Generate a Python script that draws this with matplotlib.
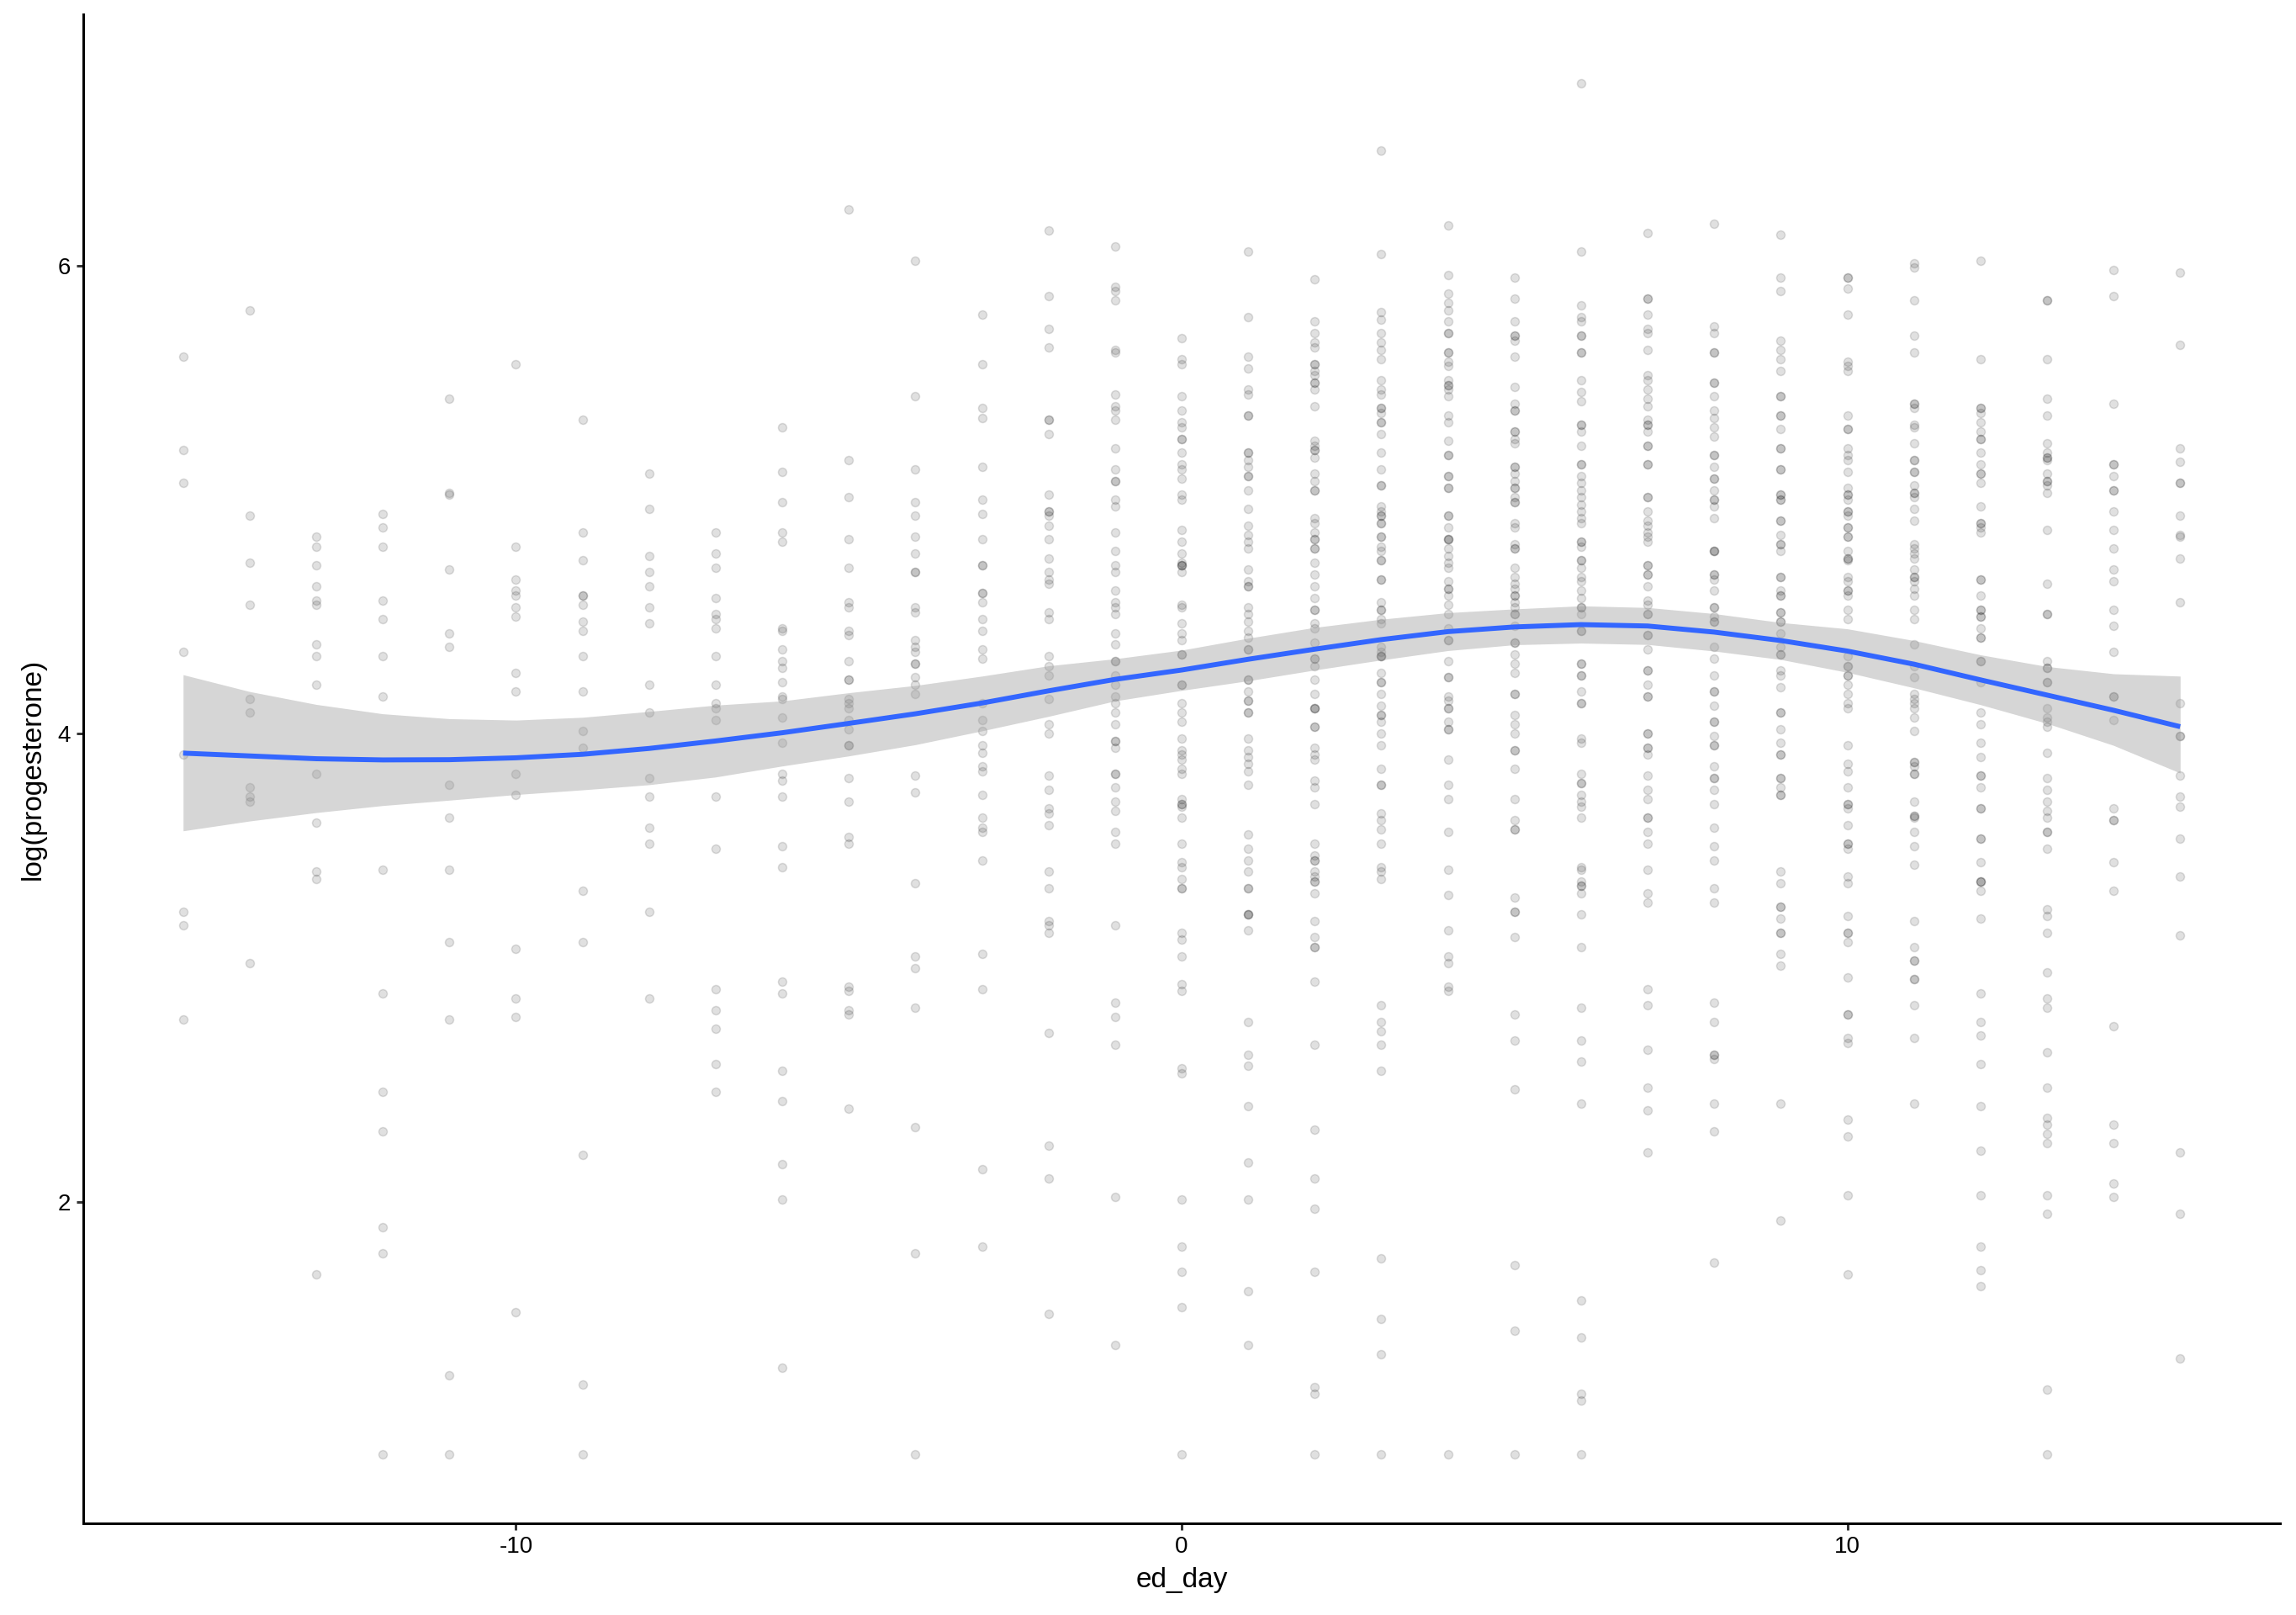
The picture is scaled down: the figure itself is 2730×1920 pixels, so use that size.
import numpy as np
import matplotlib
matplotlib.use("Agg")
import matplotlib.pyplot as plt

plt.rcParams['font.family'] = ['Liberation Sans', 'DejaVu Sans']
plt.rcParams['axes.unicode_minus'] = False

# ---- observed log(progesterone) values per ed_day ----
day_m15 = [5.61, 5.21, 5.07, 4.35, 3.91, 3.24, 3.18, 2.78]
day_m14 = [5.81, 4.93, 4.73, 4.55, 4.15, 4.09, 3.77, 3.73, 3.71, 3.02]
day_m13 = [4.84, 4.80, 4.72, 4.63, 4.57, 4.55, 4.38, 4.33, 4.21, 3.83, 3.62, 3.41, 3.38, 1.69]
day_m12 = [4.94, 4.88, 4.80, 4.57, 4.49, 4.33, 4.16, 3.42, 2.89, 2.47, 2.30, 1.89, 1.78, 0.92]
day_m11 = [5.43, 5.03, 5.02, 4.70, 4.43, 4.37, 3.78, 3.64, 3.42, 3.11, 2.78, 1.26, 0.92]
day_m10 = [5.58, 4.80, 4.66, 4.61, 4.59, 4.54, 4.50, 4.26, 4.18, 3.83, 3.74, 3.08, 2.87, 2.79, 1.53]
day_m9 = [5.34, 4.86, 4.74, 4.59, 4.59, 4.55, 4.48, 4.44, 4.33, 4.18, 4.01, 3.94, 3.33, 3.11, 2.20, 1.22, 0.92]
day_m8 = [5.11, 4.96, 4.76, 4.69, 4.63, 4.54, 4.47, 4.21, 4.09, 3.81, 3.73, 3.60, 3.53, 3.24, 2.87]
day_m7 = [4.86, 4.77, 4.71, 4.58, 4.51, 4.49, 4.45, 4.33, 4.21, 4.13, 4.11, 4.06, 3.73, 3.51, 2.91, 2.82,
          2.74, 2.59, 2.47]
day_m6 = [5.31, 5.12, 4.99, 4.86, 4.82, 4.45, 4.44, 4.36, 4.31, 4.28, 4.22, 4.16, 4.15, 4.07, 3.96, 3.83,
          3.80, 3.73, 3.52, 3.43, 2.94, 2.89, 2.56, 2.43, 2.16, 2.01, 1.29]
day_m5 = [6.24, 5.17, 5.01, 4.83, 4.71, 4.56, 4.54, 4.44, 4.42, 4.31, 4.23, 4.23, 4.15, 4.13, 4.11, 4.06,
          4.02, 3.95, 3.95, 3.81, 3.71, 3.56, 3.53, 2.92, 2.90, 2.82, 2.80, 2.40]
day_m4 = [6.02, 5.44, 5.13, 4.99, 4.93, 4.84, 4.77, 4.69, 4.69, 4.54, 4.52, 4.40, 4.37, 4.35, 4.30, 4.30,
          4.24, 4.21, 4.17, 3.82, 3.75, 3.36, 3.05, 3.00, 2.83, 2.32, 1.78, 0.92]
day_m3 = [5.79, 5.58, 5.39, 5.35, 5.14, 5.00, 4.94, 4.83, 4.72, 4.72, 4.60, 4.60, 4.56, 4.49, 4.44, 4.36,
          4.32, 4.13, 4.06, 4.01, 3.95, 3.92, 3.86, 3.84, 3.74, 3.64, 3.60, 3.58, 3.46, 3.06, 2.91, 2.14, 1.81]
day_m2 = [6.15, 5.87, 5.73, 5.65, 5.34, 5.34, 5.28, 5.02, 4.95, 4.95, 4.93, 4.89, 4.83, 4.75, 4.69, 4.66,
          4.64, 4.52, 4.49, 4.33, 4.29, 4.25, 4.15, 4.04, 4.00, 3.82, 3.76, 3.68, 3.66, 3.61, 3.41, 3.34,
          3.20, 3.18, 3.15, 2.72, 2.24, 2.10, 1.52]
day_m1 = [6.08, 5.91, 5.89, 5.85, 5.64, 5.63, 5.45, 5.40, 5.38, 5.34, 5.22, 5.13, 5.08, 5.08, 5.00, 4.97,
          4.86, 4.78, 4.72, 4.69, 4.61, 4.56, 4.54, 4.51, 4.43, 4.38, 4.31, 4.31, 4.25, 4.21, 4.16, 4.13,
          4.09, 4.04, 3.97, 3.97, 3.94, 3.83, 3.83, 3.77, 3.71, 3.67, 3.58, 3.53, 3.18, 2.85, 2.79, 2.67,
          2.02, 1.39]
day_0 = [5.69, 5.60, 5.58, 5.44, 5.38, 5.33, 5.31, 5.26, 5.26, 5.20, 5.15, 5.13, 5.09, 5.02, 5.00, 4.87,
         4.82, 4.77, 4.73, 4.72, 4.72, 4.72, 4.69, 4.55, 4.54, 4.47, 4.43, 4.40, 4.34, 4.34, 4.21, 4.21,
         4.13, 4.09, 4.05, 3.98, 3.93, 3.91, 3.89, 3.85, 3.83, 3.72, 3.70, 3.70, 3.69, 3.64, 3.53, 3.45,
         3.43, 3.38, 3.34, 3.34, 3.15, 3.12, 3.05, 2.93, 2.90, 2.57, 2.55, 2.01, 1.81, 1.70, 1.55, 0.92]
day_1 = [6.06, 5.78, 5.61, 5.56, 5.47, 5.45, 5.36, 5.36, 5.20, 5.20, 5.17, 5.14, 5.10, 5.10, 5.04, 4.96,
         4.89, 4.85, 4.82, 4.79, 4.70, 4.65, 4.63, 4.63, 4.54, 4.51, 4.48, 4.44, 4.41, 4.36, 4.36, 4.23,
         4.23, 4.18, 4.14, 4.14, 4.09, 4.09, 3.98, 3.93, 3.90, 3.87, 3.84, 3.78, 3.57, 3.51, 3.46, 3.41,
         3.34, 3.34, 3.23, 3.23, 3.23, 3.16, 2.77, 2.63, 2.58, 2.41, 2.17, 2.01, 1.62, 1.39]
day_2 = [5.94, 5.76, 5.71, 5.67, 5.65, 5.58, 5.58, 5.55, 5.53, 5.50, 5.50, 5.47, 5.40, 5.25, 5.23, 5.21,
         5.21, 5.18, 5.11, 5.08, 5.04, 5.04, 4.92, 4.90, 4.86, 4.83, 4.83, 4.79, 4.79, 4.73, 4.68, 4.63,
         4.58, 4.53, 4.53, 4.47, 4.45, 4.39, 4.32, 4.32, 4.29, 4.23, 4.17, 4.11, 4.11, 4.11, 4.03, 4.03,
         3.94, 3.91, 3.89, 3.80, 3.77, 3.70, 3.53, 3.48, 3.46, 3.46, 3.41, 3.39, 3.37, 3.37, 3.32, 3.20,
         3.13, 3.09, 3.09, 2.94, 2.67, 2.31, 2.10, 1.97, 1.70, 1.21, 1.18, 0.92]
day_3 = [6.49, 6.05, 5.80, 5.77, 5.71, 5.67, 5.64, 5.60, 5.51, 5.47, 5.45, 5.39, 5.39, 5.37, 5.33, 5.33,
         5.28, 5.20, 5.13, 5.06, 5.06, 4.97, 4.95, 4.93, 4.93, 4.90, 4.90, 4.84, 4.84, 4.80, 4.78, 4.74,
         4.74, 4.66, 4.66, 4.56, 4.53, 4.53, 4.49, 4.47, 4.37, 4.35, 4.33, 4.33, 4.33, 4.26, 4.22, 4.22,
         4.17, 4.12, 4.08, 4.08, 4.05, 4.00, 3.95, 3.85, 3.78, 3.78, 3.66, 3.63, 3.59, 3.53, 3.43, 3.41,
         3.38, 2.84, 2.77, 2.73, 2.67, 2.56, 1.76, 1.50, 1.35, 0.92]
day_4 = [6.17, 5.96, 5.88, 5.84, 5.81, 5.76, 5.71, 5.71, 5.63, 5.63, 5.59, 5.57, 5.51, 5.49, 5.49, 5.47,
         5.44, 5.36, 5.33, 5.25, 5.19, 5.19, 5.10, 5.10, 5.05, 5.05, 4.93, 4.93, 4.88, 4.83, 4.83, 4.83,
         4.79, 4.76, 4.73, 4.71, 4.65, 4.62, 4.62, 4.59, 4.55, 4.51, 4.45, 4.40, 4.40, 4.31, 4.24, 4.24,
         4.16, 4.14, 4.11, 4.11, 4.05, 4.02, 4.02, 3.89, 3.78, 3.72, 3.58, 3.42, 3.31, 3.16, 3.05, 3.02,
         2.92, 2.90, 0.92]
day_5 = [5.95, 5.86, 5.76, 5.70, 5.70, 5.68, 5.61, 5.48, 5.41, 5.38, 5.38, 5.29, 5.29, 5.26, 5.24, 5.14,
         5.14, 5.11, 5.08, 5.05, 5.05, 5.01, 4.99, 4.99, 4.90, 4.88, 4.81, 4.79, 4.79, 4.71, 4.67, 4.64,
         4.62, 4.59, 4.59, 4.56, 4.54, 4.51, 4.51, 4.46, 4.39, 4.39, 4.34, 4.30, 4.26, 4.17, 4.17, 4.08,
         4.04, 4.00, 3.93, 3.93, 3.85, 3.72, 3.63, 3.59, 3.59, 3.30, 3.24, 3.24, 3.13, 2.80, 2.69, 2.48,
         1.73, 1.45, 0.92]
day_6 = [6.78, 6.06, 5.83, 5.78, 5.76, 5.70, 5.70, 5.63, 5.63, 5.51, 5.46, 5.42, 5.32, 5.32, 5.29, 5.23,
         5.15, 5.15, 5.10, 5.07, 5.04, 5.01, 4.98, 4.95, 4.92, 4.90, 4.82, 4.82, 4.80, 4.74, 4.74, 4.71,
         4.67, 4.65, 4.61, 4.58, 4.54, 4.54, 4.51, 4.44, 4.44, 4.30, 4.30, 4.25, 4.25, 4.18, 4.13, 4.13,
         3.98, 3.96, 3.83, 3.79, 3.79, 3.74, 3.71, 3.69, 3.64, 3.43, 3.42, 3.37, 3.35, 3.35, 3.32, 3.23,
         3.09, 2.83, 2.69, 2.60, 2.42, 1.58, 1.42, 1.18, 1.15, 0.92]
day_7 = [6.14, 5.86, 5.86, 5.79, 5.73, 5.71, 5.64, 5.53, 5.51, 5.47, 5.43, 5.40, 5.34, 5.32, 5.32, 5.29,
         5.23, 5.23, 5.15, 5.15, 5.01, 5.01, 4.95, 4.91, 4.89, 4.86, 4.84, 4.82, 4.72, 4.72, 4.68, 4.68,
         4.63, 4.57, 4.55, 4.51, 4.51, 4.42, 4.42, 4.36, 4.27, 4.27, 4.21, 4.16, 4.16, 4.00, 4.00, 3.94,
         3.94, 3.91, 3.82, 3.76, 3.72, 3.64, 3.64, 3.58, 3.53, 3.42, 3.32, 3.28, 2.91, 2.84, 2.65, 2.49,
         2.39, 2.21]
day_8 = [6.18, 5.74, 5.71, 5.63, 5.63, 5.50, 5.50, 5.44, 5.38, 5.35, 5.31, 5.27, 5.19, 5.19, 5.14, 5.09,
         5.09, 5.04, 5.00, 5.00, 4.97, 4.92, 4.78, 4.78, 4.78, 4.68, 4.68, 4.66, 4.61, 4.54, 4.54, 4.50,
         4.48, 4.48, 4.37, 4.32, 4.25, 4.18, 4.18, 4.12, 4.05, 4.05, 3.99, 3.95, 3.95, 3.86, 3.81, 3.81,
         3.76, 3.70, 3.60, 3.52, 3.46, 3.34, 3.28, 2.85, 2.77, 2.63, 2.63, 2.61, 2.42, 2.30, 1.74]
day_9 = [6.13, 5.95, 5.89, 5.68, 5.64, 5.60, 5.55, 5.44, 5.44, 5.36, 5.36, 5.30, 5.22, 5.22, 5.13, 5.13,
         5.02, 5.02, 5.00, 5.00, 4.91, 4.91, 4.85, 4.81, 4.81, 4.78, 4.67, 4.67, 4.61, 4.59, 4.59, 4.52,
         4.52, 4.48, 4.48, 4.43, 4.37, 4.34, 4.34, 4.27, 4.25, 4.20, 4.09, 4.09, 4.02, 3.96, 3.91, 3.91,
         3.81, 3.81, 3.77, 3.74, 3.74, 3.41, 3.36, 3.26, 3.26, 3.21, 3.15, 3.15, 3.06, 3.01, 2.42, 1.92]
day_10 = [5.95, 5.95, 5.90, 5.79, 5.59, 5.57, 5.55, 5.36, 5.30, 5.30, 5.22, 5.19, 5.17, 5.12, 5.05, 5.02,
          5.02, 5.00, 4.95, 4.95, 4.93, 4.88, 4.88, 4.84, 4.84, 4.78, 4.75, 4.75, 4.74, 4.67, 4.65, 4.61,
          4.61, 4.59, 4.53, 4.49, 4.33, 4.29, 4.29, 4.25, 4.25, 4.21, 4.17, 4.13, 4.11, 3.95, 3.87, 3.84,
          3.77, 3.70, 3.70, 3.68, 3.61, 3.53, 3.53, 3.51, 3.39, 3.36, 3.22, 3.15, 3.15, 3.11, 2.96, 2.80,
          2.80, 2.70, 2.68, 2.35, 2.28, 2.03, 1.69]
day_11 = [6.01, 5.99, 5.85, 5.70, 5.63, 5.41, 5.41, 5.39, 5.32, 5.31, 5.24, 5.17, 5.17, 5.12, 5.12, 5.06,
          5.03, 5.03, 5.01, 4.96, 4.91, 4.81, 4.79, 4.77, 4.75, 4.70, 4.67, 4.67, 4.65, 4.62, 4.59, 4.53,
          4.49, 4.38, 4.29, 4.24, 4.17, 4.15, 4.13, 4.11, 4.07, 4.01, 3.88, 3.88, 3.86, 3.83, 3.83, 3.71,
          3.65, 3.65, 3.64, 3.58, 3.52, 3.44, 3.20, 3.09, 3.03, 3.03, 2.95, 2.95, 2.84, 2.70, 2.42]
day_12 = [6.02, 5.60, 5.39, 5.39, 5.37, 5.33, 5.29, 5.26, 5.26, 5.20, 5.15, 5.11, 5.11, 5.07, 4.97, 4.90,
          4.90, 4.88, 4.86, 4.66, 4.66, 4.59, 4.53, 4.53, 4.50, 4.50, 4.45, 4.41, 4.41, 4.31, 4.31, 4.22,
          4.09, 4.04, 3.96, 3.90, 3.82, 3.82, 3.77, 3.68, 3.68, 3.55, 3.55, 3.45, 3.37, 3.37, 3.37, 3.33,
          3.21, 2.89, 2.77, 2.71, 2.59, 2.41, 2.22, 2.03, 1.81, 1.71, 1.64]
day_13 = [5.85, 5.85, 5.60, 5.43, 5.36, 5.24, 5.20, 5.18, 5.18, 5.17, 5.11, 5.08, 5.08, 5.06, 5.03, 4.87,
          4.64, 4.51, 4.51, 4.31, 4.28, 4.28, 4.22, 4.22, 4.11, 4.07, 4.05, 4.03, 3.92, 3.81, 3.76, 3.71,
          3.67, 3.64, 3.58, 3.58, 3.51, 3.25, 3.22, 3.15, 2.98, 2.87, 2.83, 2.64, 2.49, 2.36, 2.33, 2.29,
          2.25, 2.03, 1.95, 1.20, 0.92]
day_14 = [5.98, 5.87, 5.41, 5.15, 5.15, 5.10, 5.04, 5.04, 4.95, 4.87, 4.79, 4.70, 4.65, 4.53, 4.46, 4.35,
          4.16, 4.16, 4.06, 3.68, 3.63, 3.63, 3.45, 3.33, 2.75, 2.33, 2.25, 2.08, 2.02]
day_15 = [5.97, 5.66, 5.22, 5.16, 5.07, 5.07, 4.93, 4.85, 4.84, 4.75, 4.56, 4.13, 3.99, 3.99, 3.82, 3.73,
          3.69, 3.55, 3.39, 3.14, 2.21, 1.95, 1.33]

days = list(range(-15, 16))
day_values = [day_m15, day_m14, day_m13, day_m12, day_m11, day_m10, day_m9, day_m8, day_m7, day_m6,
              day_m5, day_m4, day_m3, day_m2, day_m1, day_0, day_1, day_2, day_3, day_4, day_5, day_6,
              day_7, day_8, day_9, day_10, day_11, day_12, day_13, day_14, day_15]

# ---- smooth fit ----
fit_day = list(range(-15, 16))
fit_mean = [3.917, 3.905, 3.893, 3.888, 3.889, 3.897, 3.912, 3.937, 3.969, 4.004, 4.044, 4.085, 4.131,
            4.183, 4.232, 4.272, 4.318, 4.361, 4.402, 4.436, 4.456, 4.466, 4.460, 4.434, 4.398, 4.353,
            4.297, 4.230, 4.165, 4.100, 4.030]
fit_upper = [4.252, 4.180, 4.125, 4.085, 4.064, 4.058, 4.070, 4.095, 4.122, 4.140, 4.175, 4.206, 4.246,
             4.290, 4.320, 4.357, 4.408, 4.454, 4.489, 4.517, 4.533, 4.546, 4.539, 4.513, 4.475, 4.448,
             4.398, 4.337, 4.287, 4.256, 4.246]
fit_lower = [3.585, 3.627, 3.663, 3.693, 3.716, 3.740, 3.760, 3.782, 3.815, 3.862, 3.905, 3.953, 4.012,
             4.074, 4.140, 4.185, 4.226, 4.272, 4.315, 4.355, 4.380, 4.387, 4.381, 4.353, 4.317, 4.262,
             4.196, 4.124, 4.044, 3.950, 3.832]

xs = np.concatenate([np.full(len(v), d, dtype=float) for d, v in zip(days, day_values)])
ys = np.concatenate([np.asarray(v, dtype=float) for v in day_values])

W, H, DPI = 2730, 1920, 200
fig = plt.figure(figsize=(W / DPI, H / DPI), dpi=DPI)
ax = fig.add_axes([99 / W, 1 - 1811 / H, (2711 - 99) / W, (1811 - 17) / H])

ax.scatter(xs, ys, s=13, facecolor=(0, 0, 0, 0.12), edgecolor=(0, 0, 0, 0.12),
           linewidths=0.55, zorder=1)
ax.fill_between(fit_day, fit_lower, fit_upper, color='#999999', alpha=0.4, linewidth=0, zorder=2)
ax.plot(fit_day, fit_mean, color='#3366FF', linewidth=2.13, zorder=3, solid_capstyle='butt')

xr = 15 - (-15)
ax.set_xlim(-15 - 0.05 * xr, 15 + 0.05 * xr)
ymin, ymax = ys.min(), ys.max()
yr = ymax - ymin
ax.set_ylim(ymin - 0.05 * yr, ymax + 0.05 * yr)

ax.set_xticks([-10, 0, 10])
ax.set_yticks([2, 4, 6])
for side in ['top', 'right']:
    ax.spines[side].set_visible(False)
for side in ['left', 'bottom']:
    ax.spines[side].set_linewidth(1.07)
    ax.spines[side].set_color('black')
ax.tick_params(axis='both', length=2.75, width=1.07, color='#333333', labelsize=10,
               labelcolor='black', pad=2.6)
ax.set_xlabel('ed_day', fontsize=12, color='black', labelpad=4)
ax.set_ylabel('log(progesterone)', fontsize=12, color='black', labelpad=5)

fig.savefig('out.png', dpi=DPI, facecolor='white')
